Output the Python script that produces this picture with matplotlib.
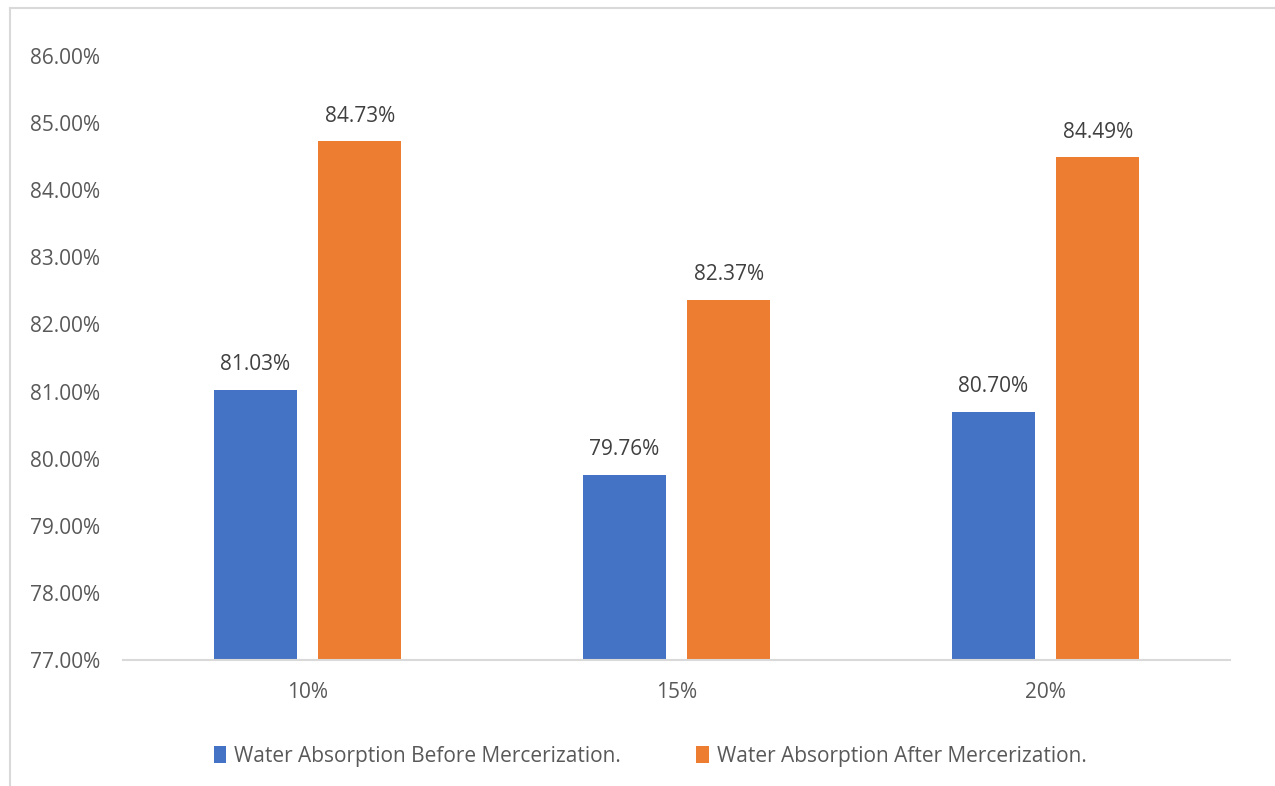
import matplotlib
matplotlib.use("Agg")
import matplotlib.pyplot as plt
import numpy as np
from matplotlib.patches import Patch
from matplotlib.lines import Line2D

categories = ["10%", "15%", "20%"]
before = [81.03, 79.76, 80.70]
after = [84.73, 82.37, 84.49]
series_names = ["Water Absorption Before Mercerization.",
                "Water Absorption After Mercerization."]
y_ticks = [77, 78, 79, 80, 81, 82, 83, 84, 85, 86]

BLUE = "#4472C4"
ORANGE = "#ED7D31"
TICK_COLOR = "#595959"
LABEL_COLOR = "#404040"
FS = 15

plt.rcParams["font.family"] = ["Open Sans", "DejaVu Sans"]

fig = plt.figure(figsize=(12.75, 7.86), dpi=100)
ax = fig.add_axes([0.0965, 0.1603, 0.8682, 0.7685])

x = np.arange(len(categories))
width = 0.225
offset = 0.142

b1 = ax.bar(x - offset, [v - 77 for v in before], width, bottom=77, color=BLUE)
b2 = ax.bar(x + offset, [v - 77 for v in after], width, bottom=77, color=ORANGE)

for bars, vals in ((b1, before), (b2, after)):
    for rect, v in zip(bars, vals):
        ax.annotate(f"{v:.2f}%", (rect.get_x() + rect.get_width() / 2, v),
                    xytext=(0, 10.5), textcoords="offset points",
                    ha="center", va="bottom", fontsize=FS, color=LABEL_COLOR)

ax.set_xlim(-0.5, 2.5)
ax.set_ylim(77, 86)
ax.set_yticks(y_ticks)
ax.set_yticklabels([f"{t:.2f}%" for t in y_ticks])
ax.set_xticks(x)
ax.set_xticklabels(categories)

for s in ("top", "right", "left"):
    ax.spines[s].set_visible(False)
ax.spines["bottom"].set_color("#D9D9D9")
ax.spines["bottom"].set_linewidth(1.5)
ax.tick_params(axis="y", length=0, pad=16.5, labelsize=FS, labelcolor=TICK_COLOR)
ax.tick_params(axis="x", length=0, pad=16, labelsize=FS, labelcolor=TICK_COLOR)

# chart-area border (top and left edges)
fig.add_artist(Line2D([10 / 1275, 1.0], [1 - 8 / 786, 1 - 8 / 786],
                      transform=fig.transFigure, color="#D9D9D9", lw=1.5))
fig.add_artist(Line2D([10 / 1275, 10 / 1275], [0.0, 1 - 8 / 786],
                      transform=fig.transFigure, color="#D9D9D9", lw=1.5))

handles = [Patch(facecolor=BLUE), Patch(facecolor=ORANGE)]
fig.legend(handles, series_names, loc="center", bbox_to_anchor=(0.51, 0.038),
           ncol=2, frameon=False, fontsize=FS, labelcolor=TICK_COLOR,
           handlelength=0.6, handleheight=0.9, handletextpad=0.4,
           columnspacing=3.6)

fig.savefig("out.png", dpi=100, facecolor="white")
